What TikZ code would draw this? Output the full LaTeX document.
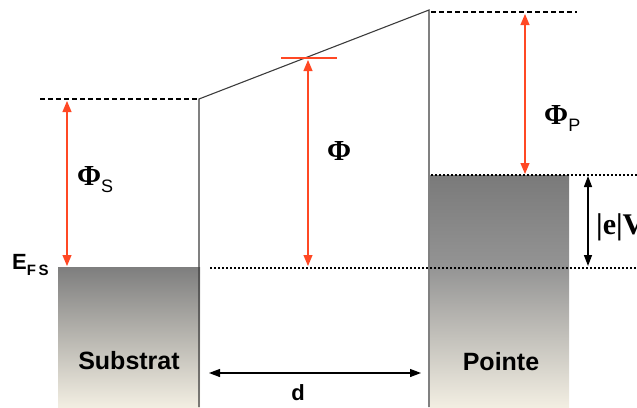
\documentclass[tikz,border=0pt]{standalone}
\usepackage{fontspec}
\setmainfont{Liberation Serif}
\setsansfont{Liberation Sans}
\usetikzlibrary{arrows.meta}
\definecolor{redarrow}{RGB}{255,72,36}
\definecolor{cream}{RGB}{242,238,226}
\definecolor{topgray}{RGB}{126,126,126}
\definecolor{pgtop}{RGB}{122,122,122}
\definecolor{pgmid}{RGB}{148,148,148}
\definecolor{pglow}{RGB}{212,209,200}
\definecolor{linegray}{RGB}{60,60,60}
\tikzset{
  wall/.style={draw=linegray, line width=1.1pt},
  dashline/.style={line width=1.8pt, dash pattern=on 4.5pt off 3.5pt},
  dotline/.style={line width=2.1pt, dash pattern=on 1.8pt off 2.2pt},
  redarr/.style={draw=redarrow, fill=redarrow, line width=1.1pt, {Triangle[length=11pt,width=9pt]}-{Triangle[length=11pt,width=9pt]}},
  blackarr/.style={draw=black, line width=1.4pt, {Triangle[length=11pt,width=8pt]}-{Triangle[length=11pt,width=8pt]}},
  sanslab/.style={font=\fontsize{25}{30}\selectfont\sffamily\bfseries, inner sep=0pt},
  philab/.style={font=\fontsize{29}{32}\selectfont\bfseries, inner sep=0pt, anchor=base west},
}
\newcommand{\subsf}[1]{\raisebox{-7pt}{\fontsize{18}{20}\selectfont\sffamily\mdseries #1}}
\begin{document}
\begin{tikzpicture}[x=1pt,y=-1pt]
\useasboundingbox (0,0) rectangle (637,407);
% blocks
\shade[top color=topgray, bottom color=cream] (58,267) rectangle (200,407);
\shade[top color=pgtop, bottom color=pgmid] (430,175) rectangle (569,268);
\shade[top color=pgmid, middle color=pglow, bottom color=cream] (430,267) rectangle (569,407);
% coordinates
\coordinate (bl) at (199,99);
\coordinate (tr) at (429,10);
\coordinate (blb) at (199,407);
\coordinate (trb) at (429,407);
% walls
\draw[wall] (blb) -- (bl) -- (tr) -- (trb);
% level lines
\coordinate (ds1) at (40,99);
\coordinate (ds2) at (198,99);
\draw[dashline] (ds1) -- (ds2);
\coordinate (dp1) at (431,12);
\coordinate (dp2) at (577,12);
\draw[dashline] (dp1) -- (dp2);
\coordinate (ef1) at (210,268);
\coordinate (ef2) at (640,268);
\draw[dotline] (ef1) -- (ef2);
\coordinate (ep1) at (431,175);
\coordinate (ep2) at (640,175);
\draw[dotline] (ep1) -- (ep2);
% red tick
\coordinate (t1) at (281,58);
\coordinate (t2) at (337,58);
\draw[redarrow, line width=1.1pt] (t1) -- (t2);
% arrows
\coordinate (as1) at (67,101);
\coordinate (as2) at (67,266);
\draw[redarr] (as1) -- (as2);
\coordinate (ap1) at (308,60);
\coordinate (ap2) at (308,266);
\draw[redarr] (ap1) -- (ap2);
\coordinate (aq1) at (525,14);
\coordinate (aq2) at (525,174);
\draw[redarr] (aq1) -- (aq2);
\coordinate (av1) at (588,176);
\coordinate (av2) at (588,266);
\draw[blackarr] (av1) -- (av2);
\coordinate (ad1) at (209,373);
\coordinate (ad2) at (421,373);
\draw[blackarr, line width=1.2pt] (ad1) -- (ad2);
% labels
\node[sanslab] (sub) at (129,361) {Substrat};
\node[sanslab] (poi) at (501,362) {Pointe};
\node[sanslab, font=\fontsize{22}{26}\selectfont\sffamily\bfseries] (dl) at (298,393) {d};
\node[philab] (phis) at (77,185) {Φ\subsf{S}};
\node[philab] (phi) at (327,160) {Φ};
\node[philab] (phip) at (544,124) {Φ\subsf{P}};
\node[inner sep=0pt, anchor=base west, font=\fontsize{22}{24}\selectfont\sffamily\bfseries] (efs) at (12,269) {E\raisebox{-6pt}{\fontsize{15}{18}\selectfont F\,S}};
\node[inner sep=0pt, anchor=base west, font=\fontsize{30}{34}\selectfont\bfseries] (ev) at (596,234) {|e|V};
\end{tikzpicture}
\end{document}
